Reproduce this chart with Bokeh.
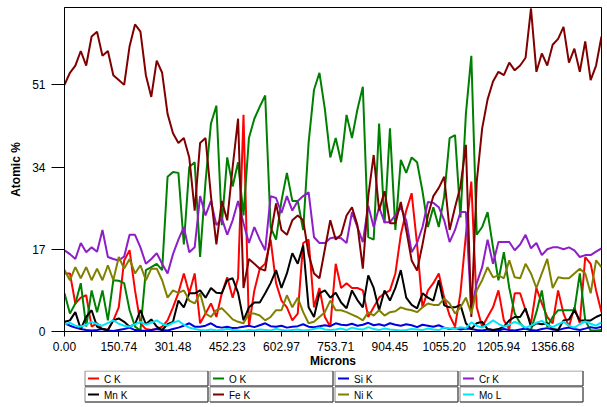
from bokeh.plotting import figure
from bokeh.models import Range1d, FixedTicker
from bokeh.layouts import column
from bokeh.embed import file_html
from bokeh.resources import INLINE
from bokeh.core.properties import value

# ---------------- data ----------------
step = 15.07425
n_points = 100
x_vals = [i * step for i in range(n_points)]

c_k = [12, 12, 5.8, 7, 7.5, 1, 1.7, 0.5, 0.3, 2.3,
       5, 14.7, 16.8, 8.5, 1.7, 0.5, 0.3, 0.5, 1, 2.3,
       5, 8, 12, 7.9, 12, 1.7, 3.7, 5.8, 3, 7.9,
       11.2, 7, 11, 44.8, 1, 8.5, 13, 14, 19, 10,
       6.4, 5, 2.3, 3.7, 18.3, 19, 5, 9, 3, 1,
       14, 9, 10, 9, 9, 8.5, 3, 5, 7, 7.9,
       8.5, 12, 20, 25, 28.6, 18, 5, 8.5, 10, 12,
       7, 3.3, 1, 8, 20, 31, 5, 1, 3, 5,
       8.5, 2.3, 0.5, 7.9, 7.9, 4.4, 1.7, 9, 5.8, 3,
       1.7, 8.5, 3.7, 1, 5, 1.7, 15.4, 14, 8.5, 4]

o_k = [7.9, 3.7, 5.8, 10, 1, 8.5, 4, 8.5, 2.3, 10.6,
       10.5, 10, 4.4, 1, 0.2, 12.7, 13.3, 14, 12.7, 32,
       33, 32.8, 18, 34, 35, 15.4, 31, 43, 46.7, 22,
       36, 30, 35, 24, 40, 44, 46.5, 48.8, 21.6, 19,
       27, 32.8, 27, 27, 21, 39, 50, 53.5, 46, 36,
       40, 35, 44.8, 40, 45.9, 50.6, 19.5, 19, 43, 22.4,
       42, 21, 35.5, 32.8, 36, 35, 29, 21.6, 25.7, 21.6,
       28, 40, 40.6, 23.6, 45, 57, 20, 21.6, 24.7, 17.4,
       10.6, 16.4, 9, 3.7, 1.7, 0.5, 0.3, 4, 8.5, 1,
       3, 4.4, 4.4, 4.4, 4.4, 12, 2.3, 0.2, 0.2, 0.3]

si_k = [1.7, 1.2, 0.8, 0.5, 0.3, 0.2, 0.3, 0.5, 0.2, 0.1,
        0.3, 0.5, 0.8, 0.3, 0.2, 0.1, 0.3, 0.5, 0.3, 0.2,
        0.5, 0.8, 1.2, 1.7, 1.0, 1.0, 1.2, 1.7, 1.0, 0.8,
        1.0, 0.7, 0.8, 1.0, 1.2, 0.9, 1.3, 1.7, 1.1, 1.0,
        1.2, 0.8, 1.0, 1.1, 1.5, 1.0, 0.9, 1.1, 1.3, 1.1,
        1.7, 1.4, 1.3, 1.6, 1.2, 1.4, 1.8, 1.3, 1.5, 1.2,
        1.7, 1.4, 1.2, 1.5, 1.3, 0.9, 1.4, 1.2, 1.0, 1.3,
        0.8, 0.5, 0.7, 0.4, 0.6, 0.5, 0.3, 0.2, 0.4, 0.3,
        0.2, 0.5, 0.3, 0.2, 0.4, 0.6, 0.3, 0.2, 0.5, 0.7,
        0.4, 0.3, 0.6, 0.8, 0.5, 0.3, 0.6, 0.9, 0.7, 1.0]

cr_k = [16.8, 16, 15, 18.3, 16.4, 17.4, 16.5, 21, 15.4, 15,
        14.7, 15.5, 20, 20, 17.4, 14, 15, 16.2, 14, 12,
        16, 19, 21.6, 16.4, 17.4, 28, 24, 27, 22, 23.4,
        20, 23, 27, 22.4, 18.3, 21.6, 19, 16.8, 28, 27.6,
        24.5, 28, 25, 27, 28, 28.8, 19.5, 18.3, 18.3, 19.3,
        19.5, 19.3, 18.3, 24.7, 21.6, 18.5, 26, 21.6, 25.7, 22.6,
        22.6, 24, 25.7, 23, 16.4, 18.3, 21.6, 26.8, 26.6, 25.7,
        23, 18.5, 21, 24.7, 24.7, 4.4, 10, 13.3, 19, 14,
        18.5, 18.5, 18.5, 16.8, 18, 20, 17.2, 18.3, 15.8, 17,
        17.4, 17.4, 17, 17.4, 16.8, 15.4, 15.8, 15.8, 16.5, 17.2]

mn_k = [2, 2.3, 4, 0.5, 3, 4.4, 1, 0.5, 0.3, 2.3,
        2.7, 2, 1, 1.5, 4.4, 1.5, 2.5, 1, 0.3, 1.5,
        2, 6.4, 5, 7.9, 7.9, 8.5, 7, 9, 8, 7.9,
        10.6, 11, 8, 2.3, 5, 6, 6, 7.9, 10, 12.7,
        9, 12, 16.2, 14, 17.8, 5, 3, 7.9, 8.5, 7,
        8, 6, 4.8, 8.5, 6.5, 5, 11.6, 9, 4.4, 8.5,
        6.4, 9, 12.7, 7, 5.5, 4.8, 7.9, 7, 6.4, 10.6,
        5.4, 5, 5, 5.5, 1.7, 0.5, 1.7, 2, 0.5, 0.3,
        0.5, 1, 2.3, 3, 3, 4.8, 1, 1.7, 1.5, 1.7,
        0.5, 0.3, 2.3, 2.5, 4.4, 2.3, 2.3, 2.3, 3, 3.5]

fe_k = [51, 53.5, 55, 58, 55, 61, 62, 57, 58, 53,
        52, 51, 59, 63.5, 62, 53, 48.5, 56, 53.5, 45,
        41, 39, 40, 36, 25, 39, 40, 28, 18, 27,
        23, 34, 44, 9, 15, 14, 13, 12.6, 20, 26.5,
        21, 20, 23, 24, 23, 16, 12, 11, 17, 23,
        19, 20, 24, 25.7, 22, 13, 28, 36.5, 25, 29,
        22.4, 22.4, 26.8, 21, 14.7, 12.6, 18, 24, 28, 29.7,
        32, 21, 25.7, 30, 38.6, 3, 31, 42, 48, 51.7,
        53.7, 53, 55.6, 54, 55, 56.6, 66.8, 53.7, 57.5, 55,
        59.3, 60.5, 63, 55.6, 58.5, 53.7, 60, 52, 55, 61]

ni_k = [12.7, 10.6, 13.3, 11, 13.3, 10.6, 13, 10.6, 13.7, 10.6,
        15.4, 13, 15, 12, 13.7, 10.6, 13, 13, 10.6, 7,
        8.5, 8, 8.5, 6.4, 5.8, 7.9, 3.7, 3, 4.4, 4.8,
        3.7, 2.5, 2, 1.7, 3.7, 3.7, 3.3, 2.3, 3, 4.4,
        4.4, 7.5, 5, 7, 4, 1.7, 2, 3, 4, 6.4,
        4.4, 4.4, 4, 3.5, 3, 2.3, 4, 3.3, 4.4, 3.3,
        4, 4.2, 5, 4.6, 4.4, 4, 5, 5.8, 5.5, 5.5,
        6.8, 5.8, 3.7, 5, 7, 3.7, 8.5, 10.6, 13.3, 11.2,
        11.6, 11, 14.7, 11.2, 11, 14, 12, 9, 12, 15,
        9, 11.2, 11, 11, 12, 13, 12, 7.9, 14.7, 13.3]

mo_l = [1.5, 1.8, 1.2, 1.0, 1.4, 2.0, 1.5, 1.2, 1.8, 2.3,
        1.6, 1.2, 1.0, 1.5, 2.0, 1.4, 1.8, 2.3, 1.6, 1.2,
        1.8, 2.2, 1.4, 0.8, 0.5, 0.3, 0.2, 0.4, 0.2, 0.3,
        0.5, 0.3, 0.2, 0.1, 0.3, 0.2, 0.4, 0.3, 0.2, 0.5,
        0.3, 0.2, 0.3, 0.4, 0.2, 0.3, 0.5, 0.8, 0.4, 0.3,
        0.4, 0.6, 0.3, 0.8, 0.5, 0.4, 0.9, 0.5, 0.3, 0.6,
        0.4, 0.3, 0.2, 0.3, 0.5, 0.4, 0.3, 0.6, 0.4, 0.3,
        0.8, 0.6, 0.5, 0.9, 0.7, 1.9, 1.2, 0.8, 1.5, 2.3,
        1.6, 1.0, 1.4, 2.0, 1.5, 0.8, 1.2, 1.8, 2.2, 1.4,
        0.9, 1.5, 2.0, 1.2, 0.8, 1.5, 2.1, 1.6, 1.2, 1.9]

series_names = ["C K", "O K", "Si K", "Cr K", "Mn K", "Fe K", "Ni K", "Mo L"]
series_values = [c_k, o_k, si_k, cr_k, mn_k, fe_k, ni_k, mo_l]
series_colors = ["#FF0000", "#008000", "#0000E0", "#8E1EC8",
                 "#000000", "#800000", "#808000", "#00E8F8"]

x_tick_labels = ["0.00", "150.74", "301.48", "452.23", "602.97",
                 "753.71", "904.45", "1055.20", "1205.94", "1356.68"]
x_tick_step = 150.7425
y_ticks = [0, 17, 34, 51]

FONT = "Liberation Sans"

# shared horizontal geometry (so the column keeps both frames identical)
FRAME_W = 537
BORDER_L = 64
BORDER_R = 5

# ---------------- main chart ----------------
p = figure(frame_width=FRAME_W, frame_height=324,
           x_range=Range1d(0, x_vals[-1]), y_range=Range1d(0, 67.0),
           output_backend="svg", toolbar_location=None,
           min_border_left=BORDER_L, min_border_right=BORDER_R, min_border_top=7,
           min_border_bottom=0)
p.background_fill_color = "white"
p.border_fill_color = "white"
p.outline_line_color = "black"
p.outline_line_width = 1
p.grid.visible = False

for name, vals, col in zip(series_names, series_values, series_colors):
    p.line(x_vals, vals, line_color=col, line_width=2)

major = [k * x_tick_step for k in range(len(x_tick_labels))]
minor = [k * x_tick_step + x_tick_step / 2 for k in range(len(x_tick_labels))]
p.xaxis.ticker = FixedTicker(ticks=major, minor_ticks=minor)
p.xaxis.major_label_overrides = {t: lab for t, lab in zip(major, x_tick_labels)}
p.xaxis.axis_label = "Microns"
p.xaxis.major_tick_out = 5
p.xaxis.major_tick_in = 0
p.xaxis.minor_tick_out = 5
p.xaxis.minor_tick_in = 0
p.xaxis.major_label_standoff = 5
p.xaxis.axis_label_standoff = 0

p.yaxis.ticker = FixedTicker(ticks=y_ticks, minor_ticks=[])
p.yaxis.axis_label = "Atomic %"
p.yaxis.major_tick_out = 13
p.yaxis.major_tick_in = 0
p.yaxis.minor_tick_out = 0
p.yaxis.minor_tick_in = 0
p.yaxis.major_label_standoff = 6
p.yaxis.axis_label_standoff = 6

for ax in (p.xaxis, p.yaxis):
    ax.axis_line_color = "black"
    ax.major_tick_line_color = "black"
    ax.minor_tick_line_color = "black"
    ax.major_label_text_font = FONT
    ax.major_label_text_font_size = "12px"
    ax.major_label_text_color = "black"
    ax.axis_label_text_font = FONT
    ax.axis_label_text_font_size = "12px"
    ax.axis_label_text_font_style = "bold"
    ax.axis_label_text_color = "black"

# ---------------- legend strip ----------------
# Its frame has the same horizontal geometry as the chart's frame; the x range is
# expressed in page pixels of that frame, the y range in pixels from the strip top.
LH = 33
lg = figure(frame_width=FRAME_W, frame_height=LH,
            x_range=Range1d(BORDER_L, BORDER_L + FRAME_W), y_range=Range1d(LH, 0),
            output_backend="svg", toolbar_location=None,
            min_border_left=BORDER_L, min_border_right=BORDER_R,
            min_border_top=0, min_border_bottom=0)
lg.axis.visible = False
lg.grid.visible = False
lg.outline_line_color = None
lg.background_fill_color = "white"
lg.border_fill_color = "white"

box_w, box_h, col_step, row_step, x0, y0 = 123, 15, 125, 16, 84.5, 0.5
lefts, rights, tops, bottoms = [], [], [], []
seg_x0, seg_x1, seg_y, tx, ty = [], [], [], [], []
for k, name in enumerate(series_names):
    r, c = divmod(k, 4)
    L = x0 + c * col_step
    T = y0 + r * row_step
    lefts.append(L); rights.append(L + box_w)
    tops.append(T); bottoms.append(T + box_h)
    seg_x0.append(L + 3); seg_x1.append(L + 14)
    seg_y.append(T + box_h / 2)
    tx.append(L + 19); ty.append(T + box_h / 2 + 0.5)

lg.quad(left=lefts, right=rights, top=tops, bottom=bottoms,
        fill_color="white", line_color="#8c8c8c", line_width=1)
lg.segment(x0=rights, y0=tops, x1=rights, y1=bottoms, line_color="#404040", line_width=1)
lg.segment(x0=lefts, y0=bottoms, x1=rights, y1=bottoms, line_color="#404040", line_width=1)
lg.segment(x0=seg_x0, y0=seg_y, x1=seg_x1, y1=seg_y,
           line_color=series_colors, line_width=2)
lg.text(x=tx, y=ty, text=series_names, text_font=value(FONT),
        text_font_size="10px", text_baseline="middle", text_align="left",
        text_color="black")

layout = column(p, lg, spacing=0)

open("out.html", "w").write(file_html(layout, INLINE))
